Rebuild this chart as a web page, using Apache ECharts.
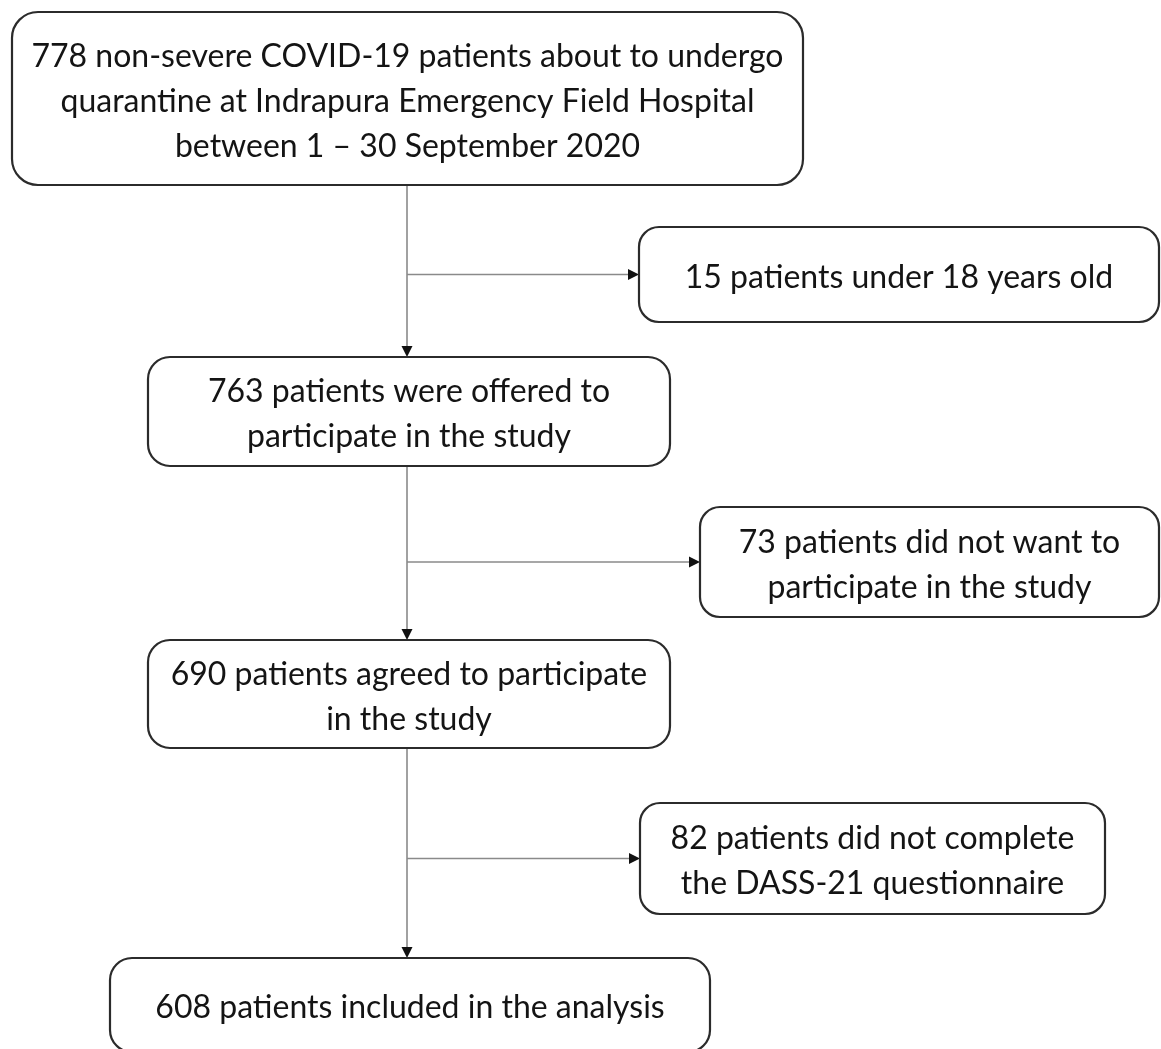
<!DOCTYPE html>
<html>
<head>
<meta charset="utf-8">
<script src="https://cdn.jsdelivr.net/npm/echarts@6/dist/echarts.min.js"></script>
<style>
html,body{margin:0;padding:0;background:#fff;}
#chart{width:1161px;height:1049px;}
</style>
</head>
<body>
<div id="chart"></div>
<script>
// ---- data ----
const mainCounts = [778, 763, 690, 608];
const mainTexts = [
  ' non-severe COVID-19 patients about to undergo\nquarantine at Indrapura Emergency Field Hospital\nbetween 1 – 30 September 2020',
  ' patients were offered to\nparticipate in the study',
  ' patients agreed to participate\nin the study',
  ' patients included in the analysis'
];
const excludedCounts = [15, 73, 82];
const excludedTexts = [
  ' patients under 18 years old',
  ' patients did not want to\nparticipate in the study',
  ' patients did not complete\nthe DASS-21 questionnaire'
];

// ---- layout (box extents in page units) ----
const mainLayout = [[12, 12, 803, 185], [148, 357, 670, 466], [148, 640, 670, 748], [110, 958, 710, 1052]];
const sideLayout = [[639, 227, 1159, 322], [700, 507, 1159, 617], [640, 803, 1105, 914]];
const spineX = 407;

const boxes = [];
mainCounts.forEach((n, i) => { const b = mainLayout[i]; boxes.push([b[0], b[1], b[2], b[3], n + mainTexts[i], i === 0 ? 26 : 22]); });
excludedCounts.forEach((n, i) => { const b = sideLayout[i]; boxes.push([b[0], b[1], b[2], b[3], n + excludedTexts[i], 20]); });

const arrows = [];
for (let i = 0; i < mainLayout.length - 1; i++) {
  arrows.push([spineX, mainLayout[i][3], spineX, mainLayout[i + 1][1]]);
  const s = sideLayout[i];
  const yMid = (s[1] + s[3]) / 2;
  arrows.push([spineX, yMid, s[0], yMid]);
}

const chart = echarts.init(document.getElementById('chart'), null, {renderer: 'canvas'});
chart.setOption({
  backgroundColor: '#ffffff',
  animation: false,
  grid: {left: 0, right: 0, top: 0, bottom: 0},
  xAxis: {type: 'value', min: 0, max: 1161, show: false},
  yAxis: {type: 'value', min: 0, max: 1049, inverse: true, show: false},
  series: [
    {
      type: 'custom',
      clip: false,
      data: arrows,
      renderItem: function (params, api) {
        const p0 = api.coord([api.value(0), api.value(1)]);
        const p1 = api.coord([api.value(2), api.value(3)]);
        const dx = p1[0] - p0[0], dy = p1[1] - p0[1];
        const len = Math.sqrt(dx * dx + dy * dy);
        const ux = dx / len, uy = dy / len;
        const L = 11, W = 5.5;
        const base = [p1[0] - ux * L, p1[1] - uy * L];
        return {
          type: 'group',
          children: [
            {type: 'line', shape: {x1: p0[0], y1: p0[1], x2: base[0], y2: base[1]},
             style: {stroke: '#8a8a8a', lineWidth: 1.6}},
            {type: 'polygon', shape: {points: [
              [p1[0], p1[1]],
              [base[0] - uy * W, base[1] + ux * W],
              [base[0] + uy * W, base[1] - ux * W]
            ]}, style: {fill: '#111111'}}
          ]
        };
      }
    },
    {
      type: 'custom',
      clip: false,
      data: boxes,
      renderItem: function (params, api) {
        const a = api.coord([api.value(0), api.value(1)]);
        const b = api.coord([api.value(2), api.value(3)]);
        const r = api.value(5);
        const txt = boxes[params.dataIndex][4];
        return {
          type: 'group',
          children: [
            {type: 'rect', shape: {x: a[0], y: a[1], width: b[0] - a[0], height: b[1] - a[1], r: r},
             style: {fill: '#ffffff', stroke: '#2b2b2b', lineWidth: 2.2}},
            {type: 'text', x: (a[0] + b[0]) / 2, y: (a[1] + b[1]) / 2 + 3,
             style: {text: txt, align: 'center', verticalAlign: 'middle',
                     font: '32px Lato, "Noto Sans", sans-serif', lineHeight: 45, fill: '#141414'}}
          ]
        };
      }
    }
  ]
});
</script>
</body>
</html>
